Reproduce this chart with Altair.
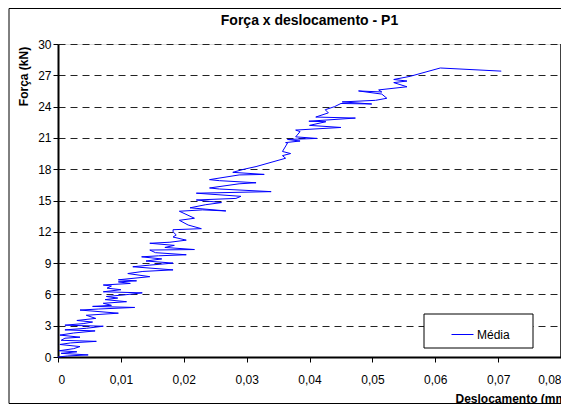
import altair as alt
import pandas as pd

# Deslocamento (mm) and Força (kN) in drawing order
desloc = [
    0.0, 0.0015, 0.0048, 0.0005, 0.0030, 0.0002, 0.0025, 0.0035, 0.0003, 0.0020,
    0.0061, 0.0005, 0.0011, 0.0035, 0.0003, 0.0025, 0.0059, 0.0011, 0.0045, 0.0072,
    0.0011, 0.0040, 0.0055, 0.0030, 0.0060, 0.0045, 0.0096, 0.0035, 0.0065, 0.0122,
    0.0055, 0.0085, 0.0072, 0.0109, 0.0075, 0.0095, 0.0077, 0.0105, 0.0134, 0.0072,
    0.0100, 0.0078, 0.0085, 0.0072, 0.0115, 0.0096, 0.0125, 0.0096, 0.0146, 0.0111,
    0.0135, 0.0183, 0.0119, 0.0145, 0.0183, 0.0140, 0.0165, 0.0133, 0.0160, 0.0204,
    0.0155, 0.0146, 0.0217, 0.0170, 0.0185, 0.0146, 0.0178, 0.0204, 0.0183, 0.0188,
    0.0183, 0.0183, 0.0228, 0.0207, 0.0193, 0.0217, 0.0193, 0.0230, 0.0267, 0.0210,
    0.0235, 0.0260, 0.0220, 0.0283, 0.0291, 0.0220, 0.0339, 0.0257, 0.0241, 0.0288,
    0.0315, 0.0257, 0.0241, 0.0288, 0.0328, 0.0278, 0.0296, 0.0315, 0.0362, 0.0357,
    0.0370, 0.0357, 0.0365, 0.0362, 0.0385, 0.0365, 0.0412, 0.0378, 0.0385, 0.0378,
    0.0450, 0.0400, 0.0426, 0.0399, 0.0473, 0.0410, 0.0430, 0.0425, 0.0440, 0.0450,
    0.0499, 0.0452, 0.0505, 0.0523, 0.0515, 0.0478, 0.0515, 0.0510, 0.0555, 0.0534,
    0.0555, 0.0534, 0.0560, 0.0608, 0.0705,
]
forca = [
    0.0, 0.10, 0.20, 0.35, 0.50, 0.60, 0.80, 1.00, 1.20, 1.35,
    1.50, 1.60, 1.80, 1.90, 2.10, 2.30, 2.50, 2.60, 2.75, 2.95,
    3.05, 3.20, 3.35, 3.50, 3.70, 4.00, 4.20, 4.50, 4.60, 4.75,
    4.85, 4.95, 5.15, 5.30, 5.50, 5.65, 5.80, 5.95, 6.15, 6.25,
    6.45, 6.60, 6.80, 6.90, 7.05, 7.20, 7.30, 7.40, 7.70, 8.00,
    8.20, 8.35, 8.65, 8.80, 9.00, 9.20, 9.40, 9.60, 9.70, 9.80,
    10.00, 10.25, 10.30, 10.50, 10.70, 10.90, 11.00, 11.20, 11.50, 11.70,
    12.00, 12.20, 12.30, 12.65, 13.10, 13.30, 13.97, 14.10, 14.00, 14.30,
    14.60, 14.80, 15.05, 15.20, 15.40, 15.70, 15.85, 16.10, 16.20, 16.60,
    16.70, 16.90, 17.00, 17.45, 17.50, 17.70, 18.00, 18.25, 19.05, 19.30,
    19.50, 19.70, 20.50, 20.55, 20.70, 20.85, 20.95, 21.10, 21.60, 21.75,
    22.00, 22.20, 22.55, 22.60, 22.90, 23.00, 23.40, 23.70, 24.00, 24.30,
    24.25, 24.45, 24.60, 24.80, 25.20, 25.50, 25.40, 25.60, 25.90, 26.30,
    26.45, 26.60, 26.90, 27.70, 27.40,
]
serie = "Média"
y_ticks = [0, 3, 6, 9, 12, 15, 18, 21, 24, 27, 30]
x_ticks = [0, 0.01, 0.02, 0.03, 0.04, 0.05, 0.06, 0.07, 0.08]

df = pd.DataFrame({"x": desloc, "y": forca, "i": list(range(len(desloc))), "s": serie})

FONT = "Liberation Sans"
W, H = 503, 313

line = alt.Chart(df).mark_line(strokeWidth=1, clip=False).encode(
    x=alt.X("x:Q", scale=alt.Scale(domain=[0, 0.08], nice=False, zero=True),
            axis=alt.Axis(values=x_ticks, grid=False, title="Deslocamento (mm)",
                          labelExpr="datum.value == 0 ? '0' : replace(format(datum.value, '.2f'), '.', ',')",
                          labelFontSize=12, labelFont=FONT, labelColor="black", labelPadding=12,
                          tickSize=5, tickColor="black", domainColor="black", domainWidth=2,
                          titleFont=FONT, titleFontSize=12, titleFontWeight="bold", titleColor="black",
                          titleAlign="left", titleAnchor="start", titleX=397, titleY=41,
                          titleBaseline="middle")),
    y=alt.Y("y:Q", scale=alt.Scale(domain=[0, 30], nice=False),
            axis=alt.Axis(values=y_ticks, grid=True, gridDash=[7, 5], gridColor="#222222",
                          gridWidth=1, title="Força (kN)", labelFontSize=12, labelFont=FONT,
                          labelColor="black", labelPadding=2, tickSize=5, tickColor="black",
                          domainColor="black", domainWidth=2,
                          titleFont=FONT, titleFontSize=12, titleFontWeight="bold", titleColor="black",
                          titleAngle=270, titleX=-35, titleY=32, titleAlign="center",
                          titleBaseline="middle")),
    color=alt.Color("s:N", scale=alt.Scale(range=["#0000FF"]),
                    legend=alt.Legend(title=None, orient="none", legendX=393, legendY=279,
                                      symbolType="stroke", symbolSize=484, symbolStrokeWidth=1,
                                      labelFont=FONT, labelFontSize=12, labelColor="black",
                                      labelOffset=3, padding=0)),
    order="i:Q",
)

box = alt.Chart(pd.DataFrame({"a": [0]})).mark_rect(
    fill="white", stroke="black", strokeWidth=1
).encode(x=alt.value(366), x2=alt.value(475), y=alt.value(270), y2=alt.value(304))

frame = alt.Chart(pd.DataFrame({"a": [0]})).mark_rect(
    fill=None, stroke="black", strokeWidth=1, clip=False
).encode(x=alt.value(-49), x2=alt.value(620), y=alt.value(-35.5), y2=alt.value(359.5))

right_edge = alt.Chart(pd.DataFrame({"a": [0]})).mark_rule(color="black", strokeWidth=1.5).encode(
    x=alt.value(W), y=alt.value(0), y2=alt.value(H))

chart = alt.layer(frame, box, right_edge, line).properties(
    width=W, height=H,
    autosize=alt.AutoSizeParams(type="none"),
    padding={"left": 50, "top": 36, "right": 0, "bottom": 47},
    title=alt.TitleParams("Força x deslocamento - P1", font=FONT, fontSize=14,
                          fontWeight="bold", color="black", anchor="middle", offset=-20),
).configure_view(stroke="#666666", strokeWidth=1).configure(background="white")

chart.save("out.html", embed_options={"renderer": "svg", "actions": False})
